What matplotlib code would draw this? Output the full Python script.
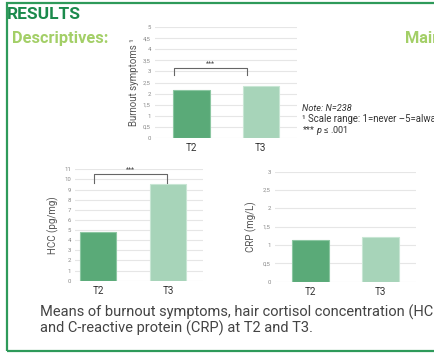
import matplotlib
matplotlib.use("Agg")
import matplotlib.pyplot as plt
from matplotlib.patches import Rectangle

plt.rcParams['font.family'] = ['Roboto', 'DejaVu Sans']
plt.rcParams['mathtext.fontset'] = 'custom'
plt.rcParams['mathtext.rm'] = 'Roboto'
plt.rcParams['mathtext.it'] = 'Roboto:italic'

W, H = 435, 353

times = ["T2", "T3"]
burnout = [2.16, 2.33]
hcc = [4.84, 9.55]
crp = [1.14, 1.21]

burnout_ticks = [0, 0.5, 1, 1.5, 2, 2.5, 3, 3.5, 4, 4.5, 5]
hcc_ticks = list(range(0, 12))
crp_ticks = [0, 0.5, 1, 1.5, 2, 2.5, 3]

dark_bar = "#5aaa78"
light_bar = "#a7d4b9"
grid_col = "#e6e6e6"
border_col = "#2e9a5a"


def px_axes(x0, y0, x1, y1):
    # pixel box (top-left origin) -> figure axes
    return fig.add_axes([x0 / W, 1 - y1 / H, (x1 - x0) / W, (y1 - y0) / H])


def fmt(v):
    s = ("%g" % v)
    return s.replace(".", ",")


def bar_chart(ax, vals, ticks, xlim, ylabel, labelpad):
    ax.set_ylim(ticks[0], ticks[-1])
    ax.set_xlim(*xlim)
    for t in ticks:
        ax.axhline(t, color=grid_col, lw=0.8, zorder=0)
    ax.bar([0, 1], vals, width=0.52, color=[dark_bar, light_bar],
           edgecolor=["#8cc7a2", "#c8e6d4"], linewidth=0.8, zorder=2)
    ax.set_xticks([0, 1])
    ax.set_xticklabels(times, fontsize=7, color="#333333")
    ax.set_yticks(ticks)
    ax.set_yticklabels([fmt(t) for t in ticks], fontsize=4.3, color="#888888")
    ax.tick_params(length=0, axis="y", pad=3)
    ax.tick_params(length=0, axis="x", pad=4)
    for s in ax.spines.values():
        s.set_visible(False)
    ax.set_ylabel(ylabel, fontsize=7, color="#555555", labelpad=labelpad)
    ax.patch.set_alpha(0)


def bracket(ax, y_top, y_low, x0, x1):
    ax.plot([x0, x0, x1, x1], [y_low, y_top, y_top, y_low], color="#666666",
            lw=0.8, zorder=3, clip_on=False)
    ax.text((x0 + x1) / 2, y_top, "***", ha="center", va="bottom",
            fontsize=5, color="#444444")


fig = plt.figure(figsize=(W / 100, H / 100), dpi=100)
fig.patch.set_facecolor("white")

# poster border
fig.add_artist(Rectangle((7 / W, 1 - 351 / H), 1.2, (351 - 2.5) / H,
                         transform=fig.transFigure, fill=False,
                         ec=border_col, lw=1.6))

fig.text(7 / W, 1 - 14.5 / H, "RESULTS", fontsize=12.5, fontweight="bold",
         color="#1b8a4c", ha="left", va="center")
fig.text(12 / W, 1 - 38.5 / H, "Descriptives:", fontsize=11.8, fontweight="bold",
         color="#a3cf67", ha="left", va="center")
fig.text(405 / W, 1 - 38.5 / H, "Main results:", fontsize=11.8, fontweight="bold",
         color="#a3cf67", ha="left", va="center")

# burnout
ax1 = px_axes(155, 27.3, 297, 137.7)
bar_chart(ax1, burnout, burnout_ticks, (-0.525, 1.52), "Burnout symptoms \u00b9", 3)
bracket(ax1, 3.17, 2.84, -0.25, 0.8)

# note
fig.text(302 / W, 1 - 108 / H, "Note: N=238", fontsize=6.6, style="italic",
         color="#333333", ha="left", va="center")
fig.text(302 / W, 1 - 119 / H, "\u00b9 Scale range: 1=never \u20135=always", fontsize=6.9,
         color="#333333", ha="left", va="center")
fig.text(302 / W, 1 - 130 / H, "*** $p$ \u2264 .001", fontsize=6.6,
         color="#333333", ha="left", va="center")

# HCC
ax2 = px_axes(75, 169.3, 203, 280.7)
bar_chart(ax2, hcc, hcc_ticks, (-0.33, 1.5), "HCC (pg/mg)", 4)
bracket(ax2, 10.5, 9.67, -0.06, 0.98)

# CRP
ax3 = px_axes(275, 171.7, 416, 281.7)
bar_chart(ax3, crp, crp_ticks, (-0.51, 1.51), "CRP (mg/L)", 4)

fig.text(40.5 / W, 1 - 312 / H,
         "Means of burnout symptoms, hair cortisol concentration (HCC)",
         fontsize=10.5, color="#444444", ha="left", va="center")
fig.text(40.5 / W, 1 - 328 / H,
         "and C-reactive protein (CRP) at T2 and T3.",
         fontsize=10.5, color="#444444", ha="left", va="center")

fig.savefig("out.png", dpi=100)
